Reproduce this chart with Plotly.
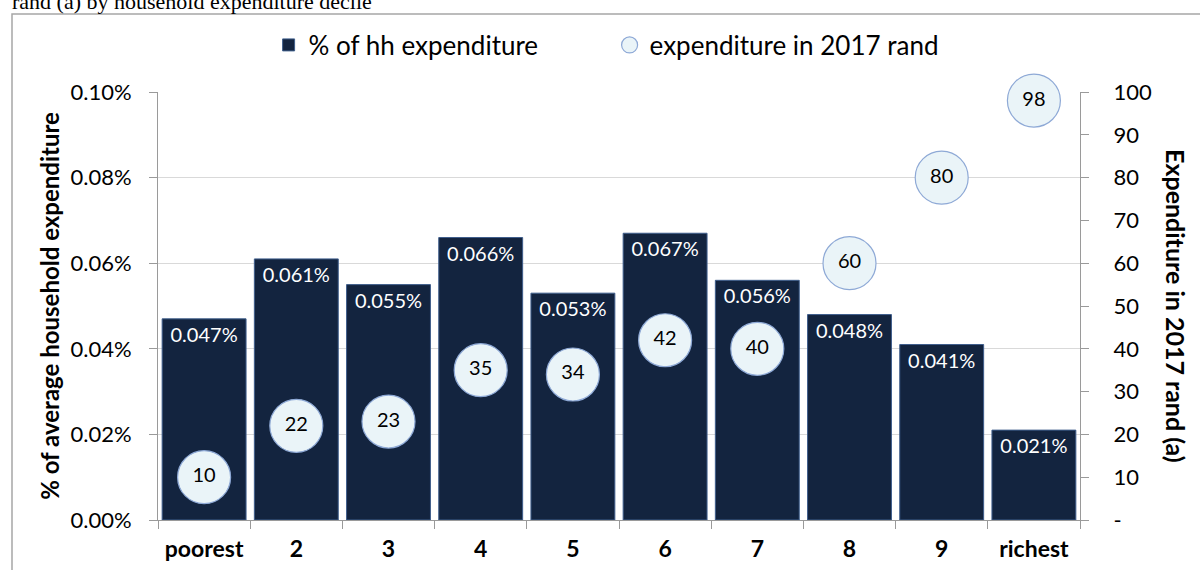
import plotly.graph_objects as go

categories = ["poorest", "2", "3", "4", "5", "6", "7", "8", "9", "richest"]
pct_of_hh_expenditure = [0.047, 0.061, 0.055, 0.066, 0.053, 0.067, 0.056, 0.048, 0.041, 0.021]
expenditure_2017_rand = [10, 22, 23, 35, 34, 42, 40, 60, 80, 98]
left_tickvals = [0, 0.02, 0.04, 0.06, 0.08, 0.10]
left_ticktext = ["0.00%", "0.02%", "0.04%", "0.06%", "0.08%", "0.10%"]
right_tickvals = [0, 10, 20, 30, 40, 50, 60, 70, 80, 90, 100]
right_ticktext = ["-", "10", "20", "30", "40", "50", "60", "70", "80", "90", "100"]

FONT = "Lato"
W, H = 1200, 570
ML, MR, MT, MB = 158, 120, 92, 50
PW, PH = W - ML - MR, H - MT - MB


def px_x(x):
    return (x - ML) / PW


def px_y(y):
    return (H - MB - y) / PH


fig = go.Figure()
fig.add_trace(go.Bar(
    x=categories, y=pct_of_hh_expenditure, name="% of hh expenditure",
    marker=dict(color="#13243F", line=dict(color="#3F5E8C", width=1)),
    texttemplate="%{y:.3f}%", textposition="inside", insidetextanchor="end",
    textangle=0,
    textfont=dict(color="white", size=20, family=FONT),
    yaxis="y",
))
fig.add_trace(go.Scatter(
    x=categories, y=expenditure_2017_rand, name="expenditure in 2017 rand",
    mode="markers+text", text=[str(v) for v in expenditure_2017_rand],
    textposition="middle center",
    textfont=dict(color="black", size=20, family=FONT),
    marker=dict(size=53, color="#EAF4F8", line=dict(color="#8EA9D6", width=1.2)),
    cliponaxis=False,
    yaxis="y2",
))

fig.update_layout(
    width=W, height=H,
    margin=dict(l=ML, r=MR, t=MT, b=MB, autoexpand=False),
    paper_bgcolor="white", plot_bgcolor="white",
    font=dict(family=FONT, color="black"),
    bargap=0.09,
    showlegend=True,
    legend=dict(orientation="h", xref="container", x=0.508, xanchor="center",
                yref="container", y=1 - 45 / H, yanchor="middle",
                font=dict(size=26, family=FONT), entrywidth=296,
                itemsizing="trace"),
    xaxis=dict(range=[-0.5, 9.5], automargin=False,
               showline=True, linecolor="#9A9A9A", ticks="outside", tickson="boundaries",
               ticklen=8, tickcolor="#9A9A9A", showgrid=False,
               tickfont=dict(size=23, family=FONT, weight="bold"),
               ticklabelstandoff=8),
    yaxis=dict(range=[0, 0.1], tickvals=left_tickvals, ticktext=left_ticktext,
               automargin=False,
               showline=True, linecolor="#9A9A9A", ticks="outside", ticklen=8,
               tickcolor="#9A9A9A", showgrid=True, gridcolor="#D9D9D9", zeroline=False,
               tickfont=dict(size=22, family=FONT), ticklabelstandoff=13,
               title=dict(text="% of average household expenditure",
                          font=dict(size=24, family=FONT, weight="bold"), standoff=4)),
    yaxis2=dict(range=[0, 100], overlaying="y", side="right", tickvals=right_tickvals,
                ticktext=right_ticktext, showline=True, linecolor="#9A9A9A",
                automargin=False,
                ticks="outside", ticklen=8, tickcolor="#9A9A9A", showgrid=False,
                zeroline=False, tickfont=dict(size=22, family=FONT),
                ticklabelstandoff=20),
    shapes=[dict(type="rect", xref="paper", yref="paper",
                 x0=px_x(12), x1=px_x(1215), y0=px_y(600), y1=px_y(14),
                 line=dict(color="#A6A6A6", width=1.5), fillcolor="rgba(0,0,0,0)",
                 layer="below")],
    annotations=[
        dict(text="Expenditure in 2017 rand (a)", xref="paper", yref="paper",
             x=px_x(1176), y=0.5, xanchor="center", yanchor="middle",
             textangle=90, showarrow=False,
             font=dict(size=25, family=FONT, weight="bold")),
        dict(text="rand (a) by household expenditure decile", xref="paper", yref="paper",
             x=px_x(10), y=px_y(1), xanchor="left", yanchor="middle", showarrow=False,
             font=dict(size=22, family="Liberation Serif")),
    ],
)

fig.write_html("out.html", config={"displayModeBar": False},
               post_script="document.body.style.margin='0';")
